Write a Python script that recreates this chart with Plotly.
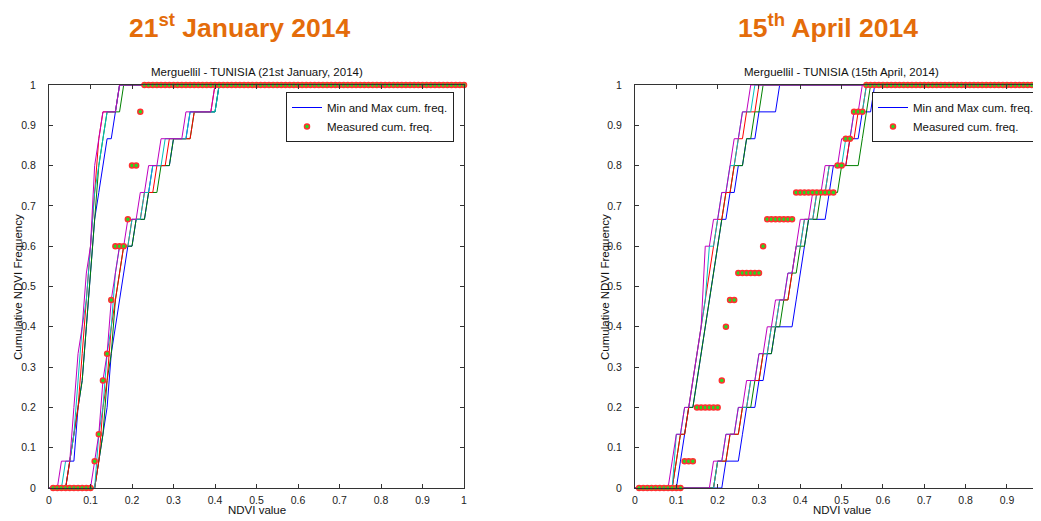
import numpy as np
import plotly.graph_objects as go

# ---------------- data ----------------
page_titles = ["21<sup>st</sup> January 2014", "15<sup>th</sup> April 2014"]
plot_titles = ["Merguellil - TUNISIA (21st January, 2014)", "Merguellil - TUNISIA (15th April, 2014)"]
series_names = ["Min and Max cum. freq.", "Measured cum. freq."]
curve_colors = ["#0000ff", "#008000", "#ff0000", "#00bfbf", "#bf00bf"]  # b g r c m
tick_values = [0, 0.1, 0.2, 0.3, 0.4, 0.5, 0.6, 0.7, 0.8, 0.9, 1]
tick_labels = ["0", "0.1", "0.2", "0.3", "0.4", "0.5", "0.6", "0.7", "0.8", "0.9", "1"]

# 15 pixel NDVI samples per curve (order: blue, green, red, cyan, magenta)
jan_min = [
    [0.05, 0.07, 0.07, 0.08, 0.09, 0.09, 0.10, 0.10, 0.11, 0.11, 0.12, 0.13, 0.14, 0.16, 0.17],
    [0.05, 0.06, 0.07, 0.08, 0.09, 0.09, 0.10, 0.10, 0.11, 0.11, 0.12, 0.12, 0.13, 0.14, 0.18],
    [0.05, 0.06, 0.07, 0.08, 0.08, 0.09, 0.09, 0.10, 0.10, 0.11, 0.11, 0.12, 0.12, 0.13, 0.17],
    [0.04, 0.06, 0.07, 0.07, 0.08, 0.08, 0.09, 0.10, 0.10, 0.11, 0.11, 0.12, 0.13, 0.14, 0.17],
    [0.03, 0.06, 0.06, 0.07, 0.07, 0.08, 0.09, 0.09, 0.10, 0.11, 0.11, 0.11, 0.12, 0.13, 0.17],
]
jan_max = [
    [0.12, 0.13, 0.14, 0.15, 0.15, 0.16, 0.17, 0.18, 0.19, 0.21, 0.24, 0.25, 0.30, 0.34, 0.41],
    [0.12, 0.13, 0.14, 0.14, 0.15, 0.16, 0.16, 0.17, 0.18, 0.21, 0.24, 0.27, 0.30, 0.35, 0.41],
    [0.12, 0.13, 0.13, 0.14, 0.15, 0.15, 0.16, 0.17, 0.18, 0.20, 0.23, 0.26, 0.29, 0.35, 0.40],
    [0.12, 0.12, 0.13, 0.14, 0.14, 0.15, 0.16, 0.16, 0.17, 0.20, 0.23, 0.25, 0.28, 0.34, 0.41],
    [0.11, 0.12, 0.13, 0.13, 0.14, 0.15, 0.15, 0.16, 0.17, 0.19, 0.22, 0.24, 0.27, 0.33, 0.40],
]
jan_measured = [0.11, 0.12, 0.13, 0.13, 0.14, 0.15, 0.15, 0.16, 0.16, 0.19, 0.20, 0.20, 0.22, 0.22, 0.23]

apr_min = [
    [0.11, 0.12, 0.13, 0.15, 0.16, 0.17, 0.18, 0.19, 0.20, 0.21, 0.23, 0.25, 0.27, 0.30, 0.35],
    [0.10, 0.11, 0.13, 0.15, 0.16, 0.17, 0.18, 0.19, 0.20, 0.21, 0.22, 0.24, 0.27, 0.29, 0.31],
    [0.10, 0.11, 0.13, 0.14, 0.15, 0.16, 0.17, 0.18, 0.19, 0.20, 0.22, 0.24, 0.25, 0.27, 0.30],
    [0.10, 0.10, 0.12, 0.14, 0.15, 0.16, 0.17, 0.18, 0.18, 0.20, 0.21, 0.23, 0.25, 0.26, 0.29],
    [0.09, 0.10, 0.12, 0.14, 0.15, 0.16, 0.17, 0.17, 0.17, 0.19, 0.21, 0.23, 0.24, 0.26, 0.28],
]
apr_max = [
    [0.22, 0.26, 0.27, 0.30, 0.32, 0.34, 0.39, 0.40, 0.41, 0.42, 0.47, 0.48, 0.52, 0.55, 0.58],
    [0.20, 0.23, 0.26, 0.29, 0.31, 0.34, 0.36, 0.38, 0.40, 0.42, 0.45, 0.50, 0.55, 0.56, 0.57],
    [0.20, 0.23, 0.26, 0.28, 0.31, 0.33, 0.35, 0.38, 0.39, 0.41, 0.44, 0.47, 0.52, 0.54, 0.56],
    [0.20, 0.22, 0.25, 0.28, 0.30, 0.33, 0.35, 0.37, 0.39, 0.41, 0.44, 0.47, 0.51, 0.53, 0.56],
    [0.19, 0.22, 0.25, 0.27, 0.30, 0.32, 0.34, 0.37, 0.39, 0.40, 0.43, 0.46, 0.50, 0.53, 0.55],
]
apr_measured = [0.12, 0.15, 0.15, 0.21, 0.22, 0.22, 0.23, 0.25, 0.31, 0.32, 0.39, 0.49, 0.51, 0.53, 0.56]

# NDVI bins at which the cumulative frequency is evaluated
ndvi_bins = np.round(np.arange(0, 101) * 0.01, 2)


def cum_freq(samples, bins):
    s = np.asarray(samples)
    return np.array([(s <= b + 1e-9).sum() for b in bins]) / len(s)


# ---------------- geometry ----------------
WIN_W, WIN_H = 1041, 521
OFF = 8                      # page body margin
W, H = WIN_W - OFF, WIN_H - OFF


def px(x):                   # window pixel -> paper x
    return (x - OFF) / W


def py(y):                   # window pixel -> paper y
    return 1 - (y - OFF) / H


lx0, lx1 = 49, 464
rx0 = 635
r_scale = 413.3
ytop, ybot = 85, 488
r_max = (WIN_W - rx0) / r_scale

# ---------------- figure ----------------
fig = go.Figure()

panels = [
    (jan_min, jan_max, jan_measured, "x", "y", "legend"),
    (apr_min, apr_max, apr_measured, "x2", "y2", "legend2"),
]

for mins, maxs, meas, xa, ya, lg in panels:
    first = True
    for group in (mins, maxs):
        for color, samples in zip(curve_colors, group):
            fig.add_trace(go.Scatter(
                x=ndvi_bins, y=cum_freq(samples, ndvi_bins), mode="lines",
                line=dict(color=color, width=1), xaxis=xa, yaxis=ya,
                name=series_names[0], showlegend=first, legend=lg,
                hoverinfo="skip"))
            first = False
    mb = ndvi_bins[1:]
    fig.add_trace(go.Scatter(
        x=mb, y=cum_freq(meas, mb), mode="markers",
        marker=dict(size=5, color="#22dd22", line=dict(color="#ff3030", width=1.5)),
        xaxis=xa, yaxis=ya, name=series_names[1], legend=lg, cliponaxis=False))

axis_common = dict(
    showgrid=False, zeroline=False, showline=True, linecolor="#333333", linewidth=1,
    mirror="ticks", ticks="inside", ticklen=4, tickcolor="#333333",
    tickvals=tick_values, ticktext=tick_labels,
    tickfont=dict(family="Liberation Sans, Arial", size=10.5, color="#222222"),
)

legend_common = dict(
    xanchor="left", yanchor="top", bgcolor="white", bordercolor="#222222", borderwidth=1,
    font=dict(family="Liberation Sans, Arial", size=11.5, color="#111111"),
    tracegroupgap=0, itemwidth=30,
)

fig.update_layout(
    width=W, height=H, margin=dict(l=0, r=0, t=0, b=0, autoexpand=False),
    paper_bgcolor="white", plot_bgcolor="white",
    xaxis=dict(domain=[px(lx0), px(lx1)], range=[0, 1], anchor="y",
               ticklabelstandoff=2, **axis_common),
    yaxis=dict(domain=[py(ybot), py(ytop)], range=[0, 1], anchor="x",
               ticklabelstandoff=10, **axis_common),
    xaxis2=dict(domain=[px(rx0), 1.0], range=[0, r_max], anchor="y2",
                ticklabelstandoff=2, **axis_common),
    yaxis2=dict(domain=[py(ybot), py(ytop)], range=[0, 1], anchor="x2",
                ticklabelstandoff=10, **axis_common),
    legend=dict(x=px(286), y=py(92), **legend_common),
    legend2=dict(x=px(872), y=py(92), **legend_common),
    showlegend=True,
)

ann = []
title_font = dict(family="Liberation Sans Narrow, Arial Narrow, Liberation Sans, Arial",
                  size=26.5, color="#E46C0A")
ann.append(dict(text="<b>" + page_titles[0] + "</b>", x=px(240), y=py(26),
                xref="paper", yref="paper", showarrow=False, font=title_font,
                xanchor="center", yanchor="middle"))
ann.append(dict(text="<b>" + page_titles[1] + "</b>", x=px(828), y=py(26),
                xref="paper", yref="paper", showarrow=False, font=title_font,
                xanchor="center", yanchor="middle"))
small = dict(family="Liberation Sans, Arial", size=11.5, color="#111111")
ann.append(dict(text=plot_titles[0], x=px((lx0 + lx1) / 2), y=py(72), xref="paper",
                yref="paper", showarrow=False, font=small, xanchor="center", yanchor="middle"))
ann.append(dict(text=plot_titles[1], x=px(rx0 + r_scale / 2), y=py(72),
                xref="paper", yref="paper", showarrow=False, font=small,
                xanchor="center", yanchor="middle"))
for cx in [(lx0 + lx1) / 2, rx0 + r_scale / 2]:
    ann.append(dict(text="NDVI value", x=px(cx), y=py(510), xref="paper", yref="paper",
                    showarrow=False, font=small, xanchor="center", yanchor="middle"))
for cx in [18, 605]:
    ann.append(dict(text="Cumulative NDVI Frequency", x=px(cx), y=py(287),
                    xref="paper", yref="paper", showarrow=False, font=small, textangle=-90,
                    xanchor="center", yanchor="middle"))
fig.update_layout(annotations=ann)

fig.write_html("out.html")
